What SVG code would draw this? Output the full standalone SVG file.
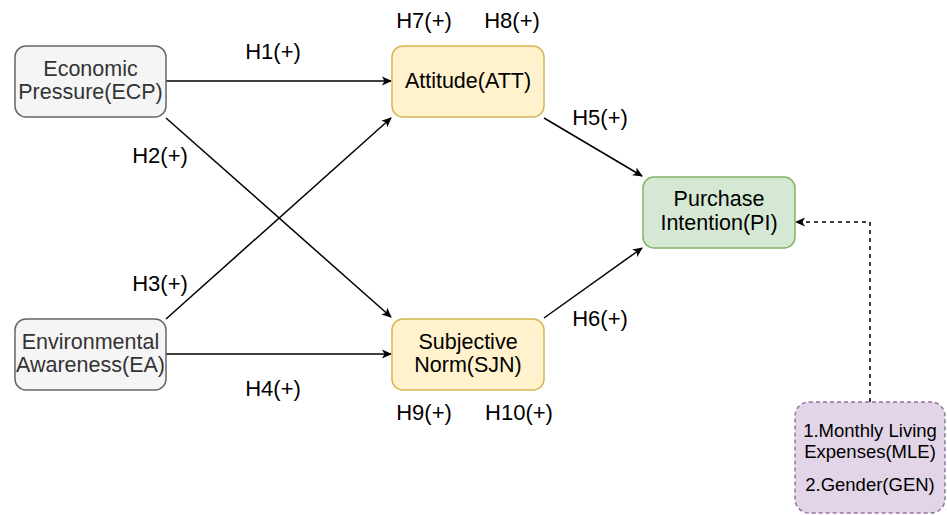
<svg xmlns="http://www.w3.org/2000/svg" width="947" height="515" viewBox="0 0 947 515">
<style>
text{font-family:"Liberation Sans",Arial,sans-serif;text-anchor:middle}
.lbl{font-size:22px;fill:#000}
.nt{font-size:21.5px;fill:#000}
.gt{font-size:21.5px;fill:#333}
.ct{font-size:18.5px;fill:#000}
.gray{fill:#f5f5f5;stroke:#666;stroke-width:1.5}
.yel{fill:#fff2cc;stroke:#d6b656;stroke-width:1.5}
.grn{fill:#d5e8d4;stroke:#82b366;stroke-width:1.5}
.pur{fill:#e1d5e7;stroke:#9673a6;stroke-width:1.5;stroke-dasharray:4 3}
.e{stroke:#000;stroke-width:1.5;fill:none;marker-end:url(#ar)}
.d{stroke:#000;stroke-width:1.5;fill:none;stroke-dasharray:4 4;marker-end:url(#oa)}
</style>
<defs>
<marker id="ar" viewBox="0 0 10 10" refX="9" refY="5" markerWidth="10" markerHeight="10" markerUnits="userSpaceOnUse" orient="auto">
<path d="M0,0.5 L10,5 L0,9.5 L2.5,5 Z" fill="#000"/>
</marker>
<marker id="oa" viewBox="0 0 10 10" refX="9" refY="5" markerWidth="10" markerHeight="10" markerUnits="userSpaceOnUse" orient="auto">
<path d="M0,0.5 L10,5 L0,9.5 L2.5,5 Z" fill="#000"/>
</marker>
</defs>
<g id="connectors">
<path class="e" d="M166,81 L391,81"/>
<path class="e" d="M166,118 L391,317"/>
<path class="e" d="M166,319 L391,118"/>
<path class="e" d="M166,354 L391,354"/>
<path class="e" d="M544,118 L642,176"/>
<path class="e" d="M544,318 L642,248"/>
<path class="d" d="M870,402 L870,222 L796,222"/>
<text class="lbl" x="273" y="59">H1(+)</text>
<text class="lbl" x="160" y="163">H2(+)</text>
<text class="lbl" x="160" y="291">H3(+)</text>
<text class="lbl" x="273" y="396">H4(+)</text>
<text class="lbl" x="600" y="125">H5(+)</text>
<text class="lbl" x="600" y="326">H6(+)</text>
<text class="lbl" x="424" y="28">H7(+)</text>
<text class="lbl" x="512" y="28">H8(+)</text>
<text class="lbl" x="424" y="420">H9(+)</text>
<text class="lbl" x="519" y="420">H10(+)</text>
</g>
<g id="ECP">
<rect class="gray" x="15" y="46" width="151" height="71" rx="11"/>
<text class="gt" x="90.5" y="76">Economic</text>
<text class="gt" x="90.5" y="99">Pressure(ECP)</text>
</g>
<g id="EA">
<rect class="gray" x="15" y="319" width="151" height="71" rx="11"/>
<text class="gt" x="90.5" y="349">Environmental</text>
<text class="gt" x="90.5" y="372">Awareness(EA)</text>
</g>
<g id="ATT">
<rect class="yel" x="392" y="46" width="152" height="71" rx="11"/>
<text class="nt" x="468" y="88">Attitude(ATT)</text>
</g>
<g id="SJN">
<rect class="yel" x="392" y="319" width="152" height="71" rx="11"/>
<text class="nt" x="468" y="349">Subjective</text>
<text class="nt" x="468" y="372">Norm(SJN)</text>
</g>
<g id="PI">
<rect class="grn" x="643" y="177" width="152" height="71" rx="11"/>
<text class="nt" x="719" y="206">Purchase</text>
<text class="nt" x="719" y="230">Intention(PI)</text>
</g>
<g id="CV">
<rect class="pur" x="795" y="402" width="150" height="111" rx="14"/>
<text class="ct" x="870" y="437">1.Monthly Living</text>
<text class="ct" x="870" y="458">Expenses(MLE)</text>
<text class="ct" x="870" y="491">2.Gender(GEN)</text>
</g>
</svg>
